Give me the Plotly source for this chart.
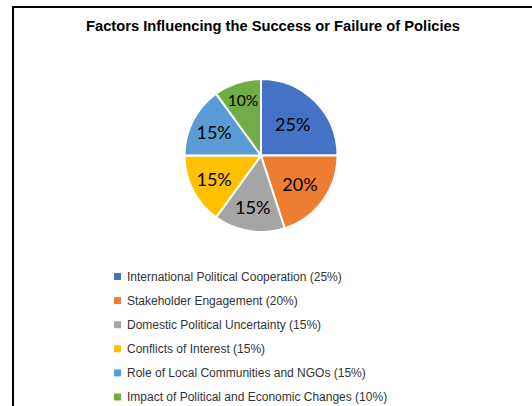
import plotly.graph_objects as go

W, H = 532, 406

title = "Factors Influencing the Success or Failure of Policies"
categories = [
    "International Political Cooperation",
    "Stakeholder Engagement",
    "Domestic Political Uncertainty",
    "Conflicts of Interest",
    "Role of Local Communities and NGOs",
    "Impact of Political and Economic Changes",
]
values = [25, 20, 15, 15, 15, 10]
colors = ["#4472C4", "#ED7D31", "#A5A5A5", "#FFC000", "#5B9BD5", "#70AD47"]


def px(x):
    return x / W


def py(y):
    return 1 - y / H


# pie geometry (pixels)
cx, cy, r = 261, 155.5, 76.5

fig = go.Figure(
    go.Pie(
        labels=categories,
        values=values,
        sort=False,
        direction="clockwise",
        rotation=0,
        marker=dict(colors=colors, line=dict(color="white", width=2)),
        texttemplate="%{percent:.0%}",
        textposition="inside",
        insidetextorientation="horizontal",
        textfont=dict(family="Lato, Carlito, Calibri, sans-serif", size=18, color="black"),
        domain=dict(x=[px(cx - r), px(cx + r)], y=[py(cy + r), py(cy - r)]),
        showlegend=False,
        hoverinfo="label+percent",
    )
)

shapes = [
    dict(
        type="path",
        xref="paper",
        yref="paper",
        path=f"M {px(13)} {py(420)} L {px(13)} {py(7)} L {px(560)} {py(7)}",
        line=dict(color="black", width=2),
    )
]
annotations = [
    dict(
        text=f"<b>{title}</b>",
        x=px(273),
        y=py(26),
        xref="paper",
        yref="paper",
        showarrow=False,
        xanchor="center",
        yanchor="middle",
        font=dict(family="Liberation Sans, Arial, sans-serif", size=14.7, color="black"),
    )
]

total = sum(values)
for i, (cat, val, col) in enumerate(zip(categories, values, colors)):
    yc = 276.5 + i * 24.1
    shapes.append(
        dict(
            type="rect",
            xref="paper",
            yref="paper",
            x0=px(114),
            x1=px(121),
            y0=py(yc + 3.5),
            y1=py(yc - 3.5),
            fillcolor=col,
            line=dict(width=0),
        )
    )
    annotations.append(
        dict(
            text=f"{cat} ({round(val / total * 100)}%)",
            x=px(125),
            y=py(yc),
            xref="paper",
            yref="paper",
            showarrow=False,
            xanchor="left",
            yanchor="middle",
            font=dict(family="Liberation Sans, Arial, sans-serif", size=12, color="#333333"),
        )
    )

fig.update_layout(
    width=W,
    height=H,
    margin=dict(l=0, r=0, t=0, b=0),
    paper_bgcolor="white",
    plot_bgcolor="white",
    shapes=shapes,
    annotations=annotations,
)

fig.write_html(
    "out.html",
    config={"displayModeBar": False},
    post_script="document.body.style.margin='0';document.body.style.overflow='hidden';",
)
